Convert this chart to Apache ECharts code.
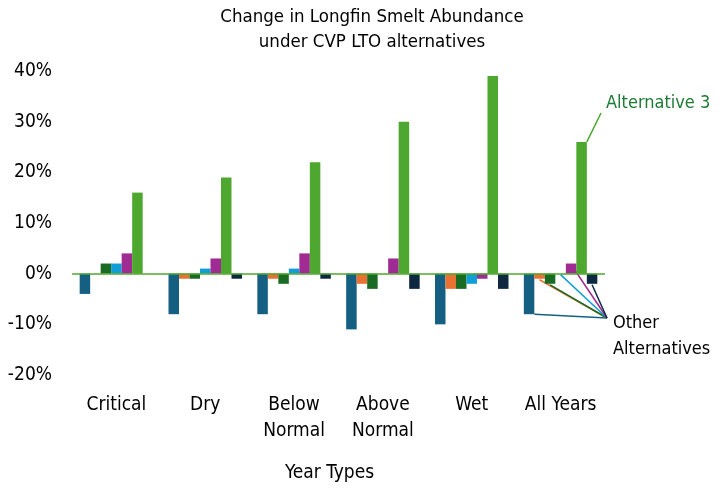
<!DOCTYPE html>
<html><head><meta charset="utf-8">
<script src="https://cdn.jsdelivr.net/npm/echarts@6/dist/echarts.min.js"></script>
<style>html,body{margin:0;padding:0;background:#fff}#c{width:725px;height:488px}</style>
</head><body><div id="c"></div>
<script>
var categories = ['Critical', 'Dry', 'Below\nNormal', 'Above\nNormal', 'Wet', 'All Years'];
var alt1 = [-4, -8, -8, -11, -10, -8];
var alt2 = [0, -1, -1, -2, -3, -1];
var alt2b = [2, -1, -2, -3, -3, -2];
var alt2c = [2, 1, 1, 0, -2, 0];
var alt2d = [4, 3, 4, 3, -1, 2];
var alt3 = [16, 19, 22, 30, 39, 26];
var alt4 = [0, -1, -1, -3, -3, -2];
var yTicks = [-20, -10, 0, 10, 20, 30, 40];

var FONT = '"Liberation Sans Narrow", "DejaVu Sans Condensed", Roboto, sans-serif';
var colors = ['#156082', '#E97132', '#196B24', '#0F9ED5', '#A02B93', '#4EA72E', '#0E2841'];
var seriesData = [alt1, alt2, alt2b, alt2c, alt2d, alt3, alt4];
var BW = 10.5;

var chart = echarts.init(document.getElementById('c'));
var series = seriesData.map(function (d, i) {
  var s = { type: 'bar', data: d, barWidth: BW, barGap: '0%', itemStyle: { color: colors[i] } };
  if (i === 0) {
    s.markLine = { silent: true, symbol: 'none', label: { show: false },
      lineStyle: { color: '#4EA72E', width: 1.5, type: 'solid' }, data: [{ yAxis: 0 }] };
  }
  return s;
});
chart.setOption({
  animation: false,
  title: { text: 'Change in Longfin Smelt Abundance\nunder CVP LTO alternatives', left: 367, top: 0, textAlign: 'center',
    textStyle: { fontFamily: FONT, fontSize: 18.5, fontWeight: 'normal', color: '#000', lineHeight: 25 } },
  grid: { left: 72, right: 120, top: 71, bottom: 112 },
  xAxis: { type: 'category', data: categories, axisLine: { show: false, onZero: false }, axisTick: { show: false },
    axisLabel: { fontFamily: FONT, fontSize: 19, color: '#000', margin: 17, lineHeight: 26, interval: 0 },
    name: 'Year Types', nameLocation: 'middle', nameGap: 89,
    nameTextStyle: { fontFamily: FONT, fontSize: 19, color: '#000', padding: [0, 18, 0, 0] } },
  yAxis: { type: 'value', min: -20, max: 40, interval: 10, splitLine: { show: false },
    axisLine: { show: false }, axisTick: { show: false },
    axisLabel: { fontFamily: FONT, fontSize: 19, color: '#000', margin: 20, formatter: '{value}%' } },
  series: series
});

function barPt(si, ci) {
  var c = chart.convertToPixel({ xAxisIndex: 0, yAxisIndex: 0 }, [ci, seriesData[si][ci]]);
  var x = c[0] - 3.5 * BW + (si + 0.5) * BW;
  return [x, c[1]];
}
var last = categories.length - 1;
var conv = [607, 318];
var g = [];
var p0 = barPt(0, last);
g.push({ type: 'line', shape: { x1: p0[0] + BW / 2, y1: p0[1], x2: conv[0], y2: conv[1] }, style: { stroke: colors[0], lineWidth: 1.5 } });
[1, 2, 3, 4, 6].forEach(function (si) {
  var p = barPt(si, last);
  g.push({ type: 'line', shape: { x1: p[0], y1: p[1] + 1, x2: conv[0], y2: conv[1] }, style: { stroke: colors[si], lineWidth: 1.5 } });
});
var pa = barPt(5, last);
g.push({ type: 'line', shape: { x1: pa[0] + BW / 2, y1: pa[1], x2: 601, y2: 113 }, style: { stroke: '#4EA72E', lineWidth: 1.5 } });
g.push({ type: 'text', left: 606, top: 94, style: { text: 'Alternative 3', font: '18px ' + FONT, fill: '#1E7B34' } });
g.push({ type: 'text', left: 613, top: 310, style: { text: 'Other\nAlternatives', font: '18px ' + FONT, fill: '#000', lineHeight: 26 } });
chart.setOption({ graphic: g });
</script></body></html>
